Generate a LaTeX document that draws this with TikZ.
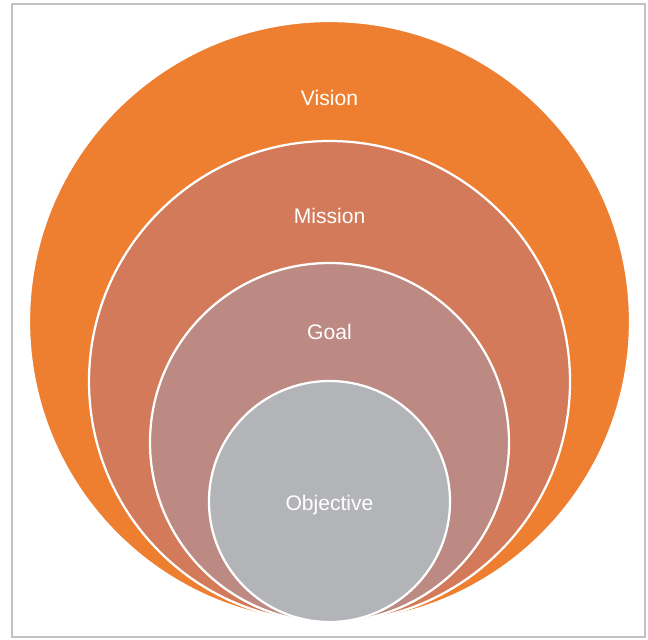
\documentclass[tikz,border=0pt]{standalone}
\usepackage{fontspec}
\setmainfont{Liberation Sans}
\usetikzlibrary{positioning}
\definecolor{visionc}{HTML}{EE7F31}
\definecolor{missionc}{HTML}{D27A5A}
\definecolor{goalc}{HTML}{BC8A83}
\definecolor{objc}{HTML}{B3B4B8}
\definecolor{framec}{HTML}{C2C2C6}

\begin{document}
\begin{tikzpicture}[x=0.2mm,y=-0.2mm,
  every node/.style={align=center,font=\fontsize{12}{14}\selectfont},
  ring/.style={circle,draw=white,line width=0.45mm,inner sep=0pt},
  lbl/.style={text=white}]
\useasboundingbox (0,0) rectangle (648,639);
\draw[framec,line width=0.4mm] (12,4) rectangle (645,637);
\node[ring,fill=visionc,minimum size=120.2mm] (vision) at (329.5,321.5) {};
\node[ring,fill=missionc,minimum size=96.2mm] (mission) at (329.5,381.5) {};
\node[ring,fill=goalc,minimum size=71.8mm] (goal) at (329.5,442.5) {};
\node[ring,fill=objc,minimum size=48.2mm] (objective) at (329.5,501.5) {};
\node[lbl] (tvision) at (329.5,98) {Vision};
\node[lbl] (tmission) at (329.5,216) {Mission};
\node[lbl] (tgoal) at (329.5,332) {Goal};
\node[lbl] (tobjective) at (329.5,505) {Objective};
\end{tikzpicture}
\end{document}
